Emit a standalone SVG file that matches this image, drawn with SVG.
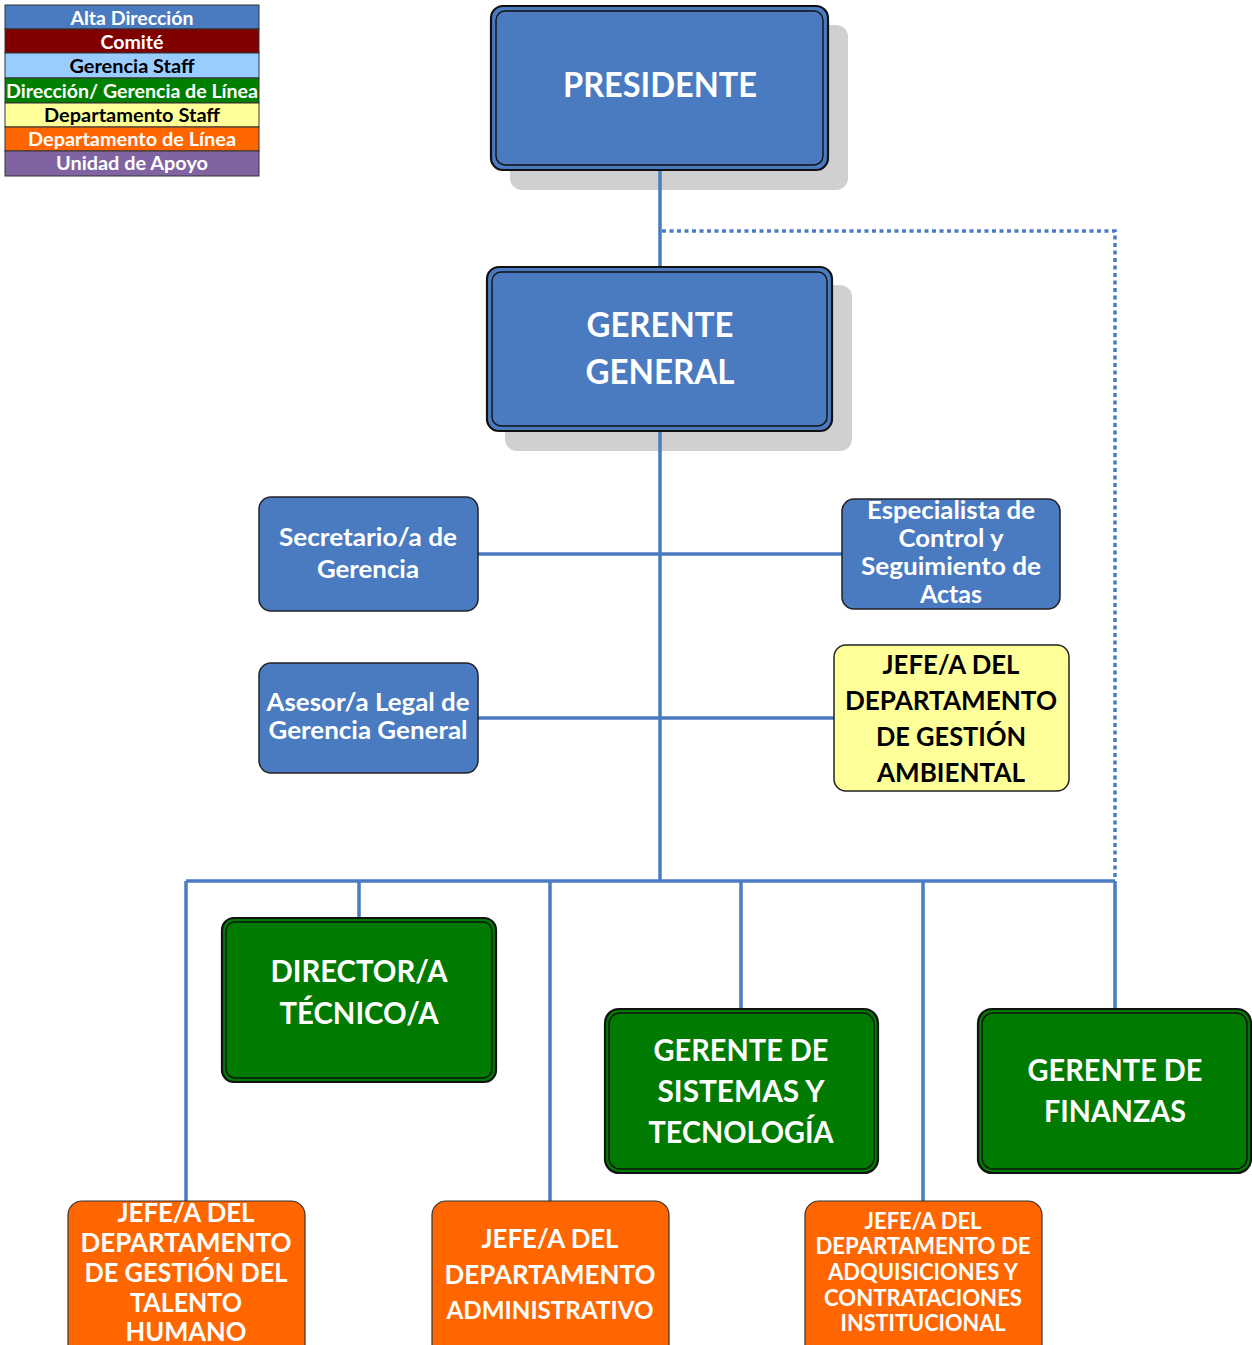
<svg xmlns="http://www.w3.org/2000/svg" width="1252" height="1345" viewBox="0 0 1252 1345">
<style>
text{font-family:Lato,"Open Sans","Liberation Sans",sans-serif;font-weight:bold;text-anchor:middle}
.w{fill:#fff}.k{fill:#000}
.blue{fill:#4a7bc1}
.grn{fill:#007a00}
.org{fill:#ff6600;stroke:#333;stroke-width:1.2}
.yel{fill:#ffff99;stroke:#222;stroke-width:1.5}
.ob{stroke:#111;stroke-width:2.2}
.ib{fill:none;stroke:#111;stroke-width:1.4}
.sb{stroke:#222;stroke-width:1.5}
.sh{fill:#d0d0d0}
.cn{stroke:#4b7cc2;stroke-width:3.5;fill:none}
.dt{stroke:#4b7cc2;stroke-width:3.5;fill:none;stroke-dasharray:4 3.5}
.lg{stroke:#333;stroke-width:1}
</style>
<g id="legend">
<rect x="5" y="5" width="254" height="24" fill="#4a7bc1" class="lg"/>
<rect x="5" y="29" width="254" height="24" fill="#800000" class="lg"/>
<rect x="5" y="53" width="254" height="25" fill="#99ccff" class="lg"/>
<rect x="5" y="78" width="254" height="25" fill="#008000" class="lg"/>
<rect x="5" y="103" width="254" height="24" fill="#ffff99" class="lg"/>
<rect x="5" y="127" width="254" height="24" fill="#ff6600" class="lg"/>
<rect x="5" y="151" width="254" height="25" fill="#8064a2" class="lg"/>
<text x="132" y="25" font-size="18" class="w" textLength="123" lengthAdjust="spacingAndGlyphs">Alta Dirección</text>
<text x="132" y="49" font-size="18" class="w" textLength="63" lengthAdjust="spacingAndGlyphs">Comité</text>
<text x="132" y="73" font-size="18" class="k" textLength="125" lengthAdjust="spacingAndGlyphs">Gerencia Staff</text>
<text x="132" y="98" font-size="18" class="w" textLength="252" lengthAdjust="spacingAndGlyphs">Dirección/ Gerencia de Línea</text>
<text x="132" y="122" font-size="18" class="k" textLength="176" lengthAdjust="spacingAndGlyphs">Departamento Staff</text>
<text x="132" y="146" font-size="18" class="w" textLength="208" lengthAdjust="spacingAndGlyphs">Departamento de Línea</text>
<text x="132" y="170" font-size="18" class="w" textLength="152" lengthAdjust="spacingAndGlyphs">Unidad de Apoyo</text>
</g>
<g id="shadows">
<rect x="510" y="25" width="338" height="165" rx="12" class="sh"/>
<rect x="505" y="285" width="347" height="166" rx="12" class="sh"/>
</g>
<g id="connectors">
<path class="cn" d="M660 170V267M660 431V881M478 554H842M478 718H834"/>
<path class="cn" d="M186 881H1115M186 881V1201M359 881V919M550 881V1201M741 881V1010M923 881V1201M1115 881V1010"/>
<path class="dt" d="M662 231H1115V879"/>
</g>
<g id="presidente">
<rect x="491" y="6" width="337" height="164" rx="12" class="blue ob"/>
<rect x="496" y="11" width="327" height="154" rx="9" class="ib"/>
<text x="660" y="97" font-size="34" class="w" textLength="194" lengthAdjust="spacingAndGlyphs">PRESIDENTE</text>
</g>
<g id="gerente-general">
<rect x="487" y="267" width="345" height="164" rx="12" class="blue ob"/>
<rect x="492" y="272" width="335" height="154" rx="9" class="ib"/>
<text x="660" y="337" font-size="34" class="w" textLength="147" lengthAdjust="spacingAndGlyphs">GERENTE</text>
<text x="660" y="384" font-size="34" class="w" textLength="149" lengthAdjust="spacingAndGlyphs">GENERAL</text>
</g>
<g id="secretario">
<rect x="259" y="497" width="219" height="114" rx="12" class="blue sb"/>
<text x="368" y="546" font-size="24" class="w" textLength="178" lengthAdjust="spacingAndGlyphs">Secretario/a de</text>
<text x="368" y="578" font-size="24" class="w" textLength="102" lengthAdjust="spacingAndGlyphs">Gerencia</text>
</g>
<g id="especialista">
<rect x="842" y="499" width="218" height="110" rx="12" class="blue sb"/>
<text x="951" y="519" font-size="24" class="w" textLength="168" lengthAdjust="spacingAndGlyphs">Especialista de</text>
<text x="951" y="547" font-size="24" class="w" textLength="105" lengthAdjust="spacingAndGlyphs">Control y</text>
<text x="951" y="575" font-size="24" class="w" textLength="180" lengthAdjust="spacingAndGlyphs">Seguimiento de</text>
<text x="951" y="603" font-size="24" class="w" textLength="62" lengthAdjust="spacingAndGlyphs">Actas</text>
</g>
<g id="asesor">
<rect x="259" y="663" width="219" height="110" rx="12" class="blue sb"/>
<text x="368" y="711" font-size="24" class="w" textLength="203" lengthAdjust="spacingAndGlyphs">Asesor/a Legal de</text>
<text x="368" y="739" font-size="24" class="w" textLength="199" lengthAdjust="spacingAndGlyphs">Gerencia General</text>
</g>
<g id="jefe-ambiental">
<rect x="834" y="645" width="235" height="146" rx="12" class="yel"/>
<text x="951" y="674" font-size="27" class="k" textLength="137" lengthAdjust="spacingAndGlyphs">JEFE/A DEL</text>
<text x="951" y="710" font-size="27" class="k" textLength="212" lengthAdjust="spacingAndGlyphs">DEPARTAMENTO</text>
<text x="951" y="746" font-size="27" class="k" textLength="150" lengthAdjust="spacingAndGlyphs">DE GESTIÓN</text>
<text x="951" y="782" font-size="27" class="k" textLength="148" lengthAdjust="spacingAndGlyphs">AMBIENTAL</text>
</g>
<g id="director-tecnico">
<rect x="222" y="918" width="274" height="164" rx="12" class="grn ob"/>
<rect x="226" y="922" width="266" height="156" rx="9" class="ib"/>
<text x="359" y="982" font-size="30" class="w" textLength="177" lengthAdjust="spacingAndGlyphs">DIRECTOR/A</text>
<text x="359" y="1024" font-size="30" class="w" textLength="159" lengthAdjust="spacingAndGlyphs">TÉCNICO/A</text>
</g>
<g id="gerente-sistemas">
<rect x="605" y="1009" width="273" height="164" rx="14" class="grn ob"/>
<rect x="609" y="1013" width="265" height="156" rx="11" class="ib"/>
<text x="741" y="1061" font-size="30" class="w" textLength="175" lengthAdjust="spacingAndGlyphs">GERENTE DE</text>
<text x="741" y="1102" font-size="30" class="w" textLength="167" lengthAdjust="spacingAndGlyphs">SISTEMAS Y</text>
<text x="741" y="1143" font-size="30" class="w" textLength="185" lengthAdjust="spacingAndGlyphs">TECNOLOGÍA</text>
</g>
<g id="gerente-finanzas">
<rect x="978" y="1009" width="273" height="164" rx="14" class="grn ob"/>
<rect x="982" y="1013" width="265" height="156" rx="11" class="ib"/>
<text x="1115" y="1081" font-size="30" class="w" textLength="175" lengthAdjust="spacingAndGlyphs">GERENTE DE</text>
<text x="1115" y="1122" font-size="30" class="w" textLength="142" lengthAdjust="spacingAndGlyphs">FINANZAS</text>
</g>
<g id="jefe-talento-humano">
<rect x="68" y="1201" width="237" height="160" rx="14" class="org"/>
<text x="186" y="1222" font-size="27" class="w" textLength="137" lengthAdjust="spacingAndGlyphs">JEFE/A DEL</text>
<text x="186" y="1252" font-size="27" class="w" textLength="211" lengthAdjust="spacingAndGlyphs">DEPARTAMENTO</text>
<text x="186" y="1282" font-size="27" class="w" textLength="203" lengthAdjust="spacingAndGlyphs">DE GESTIÓN DEL</text>
<text x="186" y="1312" font-size="27" class="w" textLength="112" lengthAdjust="spacingAndGlyphs">TALENTO</text>
<text x="186" y="1341" font-size="27" class="w" textLength="121" lengthAdjust="spacingAndGlyphs">HUMANO</text>
</g>
<g id="jefe-administrativo">
<rect x="432" y="1201" width="237" height="160" rx="14" class="org"/>
<text x="550" y="1248" font-size="27" class="w" textLength="137" lengthAdjust="spacingAndGlyphs">JEFE/A DEL</text>
<text x="550" y="1284" font-size="27" class="w" textLength="211" lengthAdjust="spacingAndGlyphs">DEPARTAMENTO</text>
<text x="550" y="1319" font-size="25" class="w" textLength="207" lengthAdjust="spacingAndGlyphs">ADMINISTRATIVO</text>
</g>
<g id="jefe-adquisiciones">
<rect x="805" y="1201" width="237" height="160" rx="14" class="org"/>
<text x="923" y="1229" font-size="22" class="w" textLength="117" lengthAdjust="spacingAndGlyphs">JEFE/A DEL</text>
<text x="923" y="1254" font-size="22" class="w" textLength="215" lengthAdjust="spacingAndGlyphs">DEPARTAMENTO DE</text>
<text x="923" y="1280" font-size="22" class="w" textLength="190" lengthAdjust="spacingAndGlyphs">ADQUISICIONES Y</text>
<text x="923" y="1306" font-size="22" class="w" textLength="198" lengthAdjust="spacingAndGlyphs">CONTRATACIONES</text>
<text x="923" y="1331" font-size="22" class="w" textLength="165" lengthAdjust="spacingAndGlyphs">INSTITUCIONAL</text>
</g>
</svg>
